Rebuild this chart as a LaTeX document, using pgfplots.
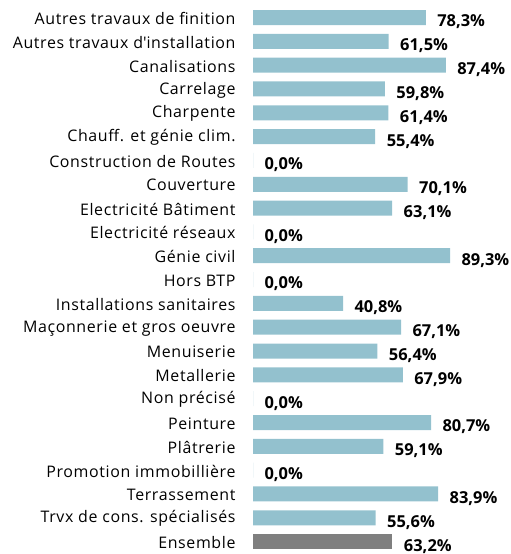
\documentclass[border=0pt]{standalone}
\usepackage{fontspec}
\setmainfont{Open Sans}
\newfontfamily\lblfont[LetterSpace=4]{Open Sans}
\usepackage{pgfplots}
\pgfplotsset{compat=1.18}
\definecolor{barblue}{HTML}{93C1CE}
\definecolor{bargray}{HTML}{7F7F7F}
\begin{document}
\begin{tikzpicture}
\begin{axis}[
  xbar, bar shift=0pt,
  scale only axis,
  width=220.6bp, height=547.9bp,
  xmin=0, xmax=100,
  ymin=-0.5, ymax=22.5,
  y dir=reverse,
  axis line style={draw=none},
  xtick=\empty,
  ytick={0,...,22},
  yticklabels={Autres travaux de finition,{Autres travaux d\textquotesingle installation},Canalisations,Carrelage,Charpente,Chauff. et génie clim.,Construction de Routes,Couverture,Electricité Bâtiment,Electricité réseaux,Génie civil,Hors BTP,Installations sanitaires,Maçonnerie et gros oeuvre,Menuiserie,Metallerie,Non précisé,Peinture,Plâtrerie,Promotion immobillière,Terrassement,Trvx de cons. spécialisés,Ensemble},
  yticklabel style={font=\lblfont\fontsize{16}{18}\selectfont, anchor=east, xshift=-14bp, yshift=-1bp},
  major tick length=0pt,
  tick style={draw=none},
  bar width=15bp,
  nodes near coords={\pgfmathprintnumber[fixed,fixed zerofill,precision=1,use comma,assume math mode=true]{\pgfplotspointmeta}\%},
  nodes near coords style={font=\fontsize{16.5}{18}\selectfont\bfseries, anchor=west, xshift=8bp, yshift=-4.5bp, black},
  clip=false,
]
\addplot[fill=barblue, draw=none] coordinates {
(78.3,0) (61.5,1) (87.4,2) (59.8,3) (61.4,4) (55.4,5) (0.0,6) (70.1,7) (63.1,8) (0.0,9) (89.3,10) (0.0,11) (40.8,12) (67.1,13) (56.4,14) (67.9,15) (0.0,16) (80.7,17) (59.1,18) (0.0,19) (83.9,20) (55.6,21)
};
\addplot[fill=bargray, draw=none] coordinates {(63.2,22)};
\coordinate (bl) at (axis cs:-114.69,22.52);
\coordinate (tr) at (axis cs:116.5,-0.735);
\end{axis}
\pgfresetboundingbox
\path (bl) rectangle (tr);
\end{tikzpicture}
\end{document}
